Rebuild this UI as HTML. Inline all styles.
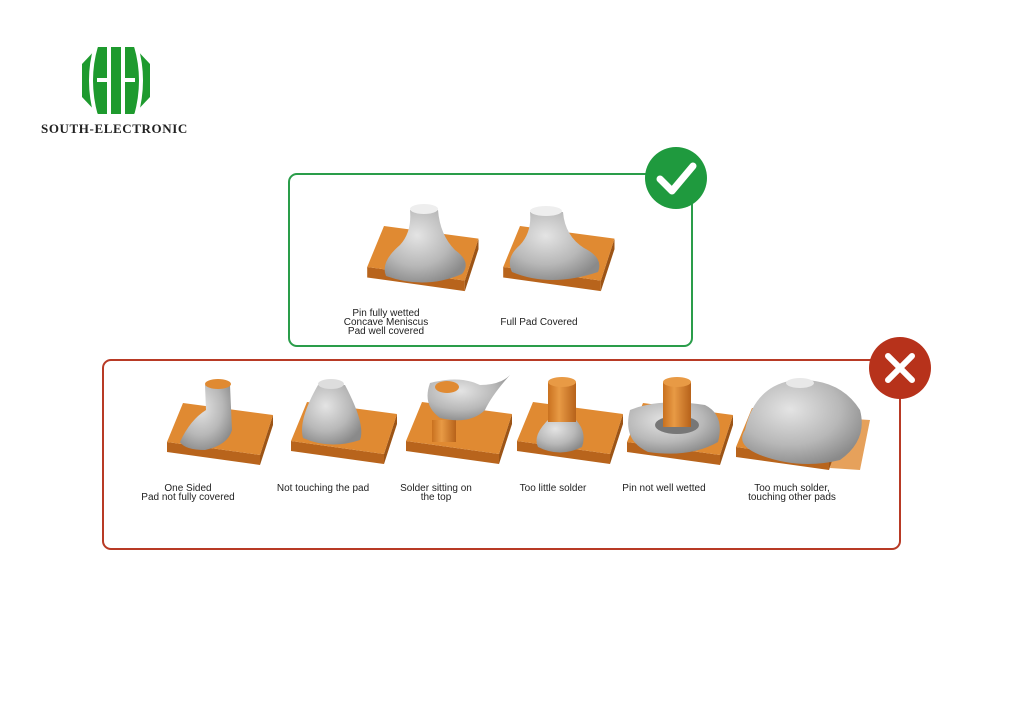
<!DOCTYPE html>
<html><head><meta charset="utf-8"><style>
html,body{margin:0;padding:0;background:#fff;}
svg{display:block}
text{font-family:"Liberation Sans",sans-serif;fill:#222;}
</style></head><body>
<svg width="1024" height="724" viewBox="0 0 1024 724" xmlns="http://www.w3.org/2000/svg">
<defs>
<radialGradient id="g" cx="0.4" cy="0.35" r="0.7"><stop offset="0" stop-color="#e4e4e4"/><stop offset="0.6" stop-color="#b8b8b8"/><stop offset="1" stop-color="#8a8a8a"/></radialGradient>
<linearGradient id="pin" x1="0" x2="1"><stop offset="0" stop-color="#c9711f"/><stop offset="0.4" stop-color="#e89a45"/><stop offset="1" stop-color="#b7621a"/></linearGradient>
<g id="pad">
<polygon points="-16,39 77,52 77,62 -16,49" fill="#b8641c"/>
<polygon points="77,52 90,12 90,22 77,62" fill="#9c5416"/>
<polygon points="0,0 90,12 77,52 -16,39" fill="#e08a32"/>
</g>
</defs>

<!-- logo -->
<path d="M98,47 L134,47 L150,64 L150,97 L134,114 L98,114 L82,97 L82,64 Z" fill="#1e9a2e"/>
<g fill="none" stroke="#fff" stroke-width="4">
<path d="M96,46 Q86,80 96,116"/><path d="M136,46 Q146,80 136,116"/>
</g>
<g fill="#fff">
<rect x="107" y="46" width="4" height="70"/><rect x="121" y="46" width="4" height="70"/>
<rect x="97" y="78" width="10" height="4"/><rect x="125" y="78" width="10" height="4"/>
</g>
<text x="41" y="133" style="font-family:'Liberation Serif',serif;font-weight:bold;font-size:13px;letter-spacing:0.6px" fill="#222">SOUTH-ELECTRONIC</text>

<!-- good box -->
<rect x="289" y="174" width="403" height="172" rx="8" fill="none" stroke="#2a9d4a" stroke-width="2"/>
<circle cx="676" cy="178" r="31" fill="#1f9a3e"/>
<path d="M660,179 L672,191 L693,166" fill="none" stroke="#fff" stroke-width="7" stroke-linecap="round" stroke-linejoin="round"/>

<use href="#pad" transform="translate(384,226) scale(1.05)"/>
<path d="M410,210 Q412,232 400,245 Q380,262 386,276 Q425,290 462,274 Q472,262 455,250 Q440,235 438,210 Z" fill="url(#g)"/>
<ellipse cx="424" cy="209" rx="14" ry="5" fill="#eee"/>
<use href="#pad" transform="translate(520,226) scale(1.05)"/>
<path d="M530,212 Q532,232 520,245 Q505,258 512,272 Q550,288 598,272 Q604,258 584,248 Q565,236 563,212 Z" fill="url(#g)"/>
<ellipse cx="546" cy="211" rx="16" ry="5" fill="#eee"/>
<g font-size="10" text-anchor="middle"><text x="386" y="316">Pin fully wetted</text><text x="386" y="325">Concave Meniscus</text><text x="386" y="334">Pad well covered</text><text x="539" y="325">Full Pad Covered</text></g>

<!-- bad box -->
<rect x="103" y="360" width="797" height="189" rx="8" fill="none" stroke="#b83a25" stroke-width="2"/>
<circle cx="900" cy="368" r="31" fill="#b7321b"/>
<path d="M888,356 L912,380 M912,356 L888,380" stroke="#fff" stroke-width="6" stroke-linecap="round"/>

<use href="#pad" transform="translate(183,403)"/>
<path d="M205,385 L230,385 L232,430 Q228,445 205,450 Q185,450 180,442 Q190,420 206,410 Z" fill="url(#g)"/>
<ellipse cx="218" cy="384" rx="13" ry="5" fill="#e08a32"/>

<use href="#pad" transform="translate(307,402)"/>
<path d="M318,385 Q298,420 303,438 Q330,450 360,440 Q366,425 345,385 Z" fill="url(#g)"/>
<ellipse cx="331" cy="384" rx="13" ry="5" fill="#ddd"/>

<use href="#pad" transform="translate(422,402)"/>
<rect x="432" y="420" width="24" height="22" fill="url(#pin)"/>
<path d="M430,383 Q460,375 480,385 Q500,385 510,375 Q492,395 485,410 Q470,425 440,418 Q422,405 430,383 Z" fill="url(#g)"/>
<ellipse cx="447" cy="387" rx="12" ry="6" fill="#e08a32"/>

<use href="#pad" transform="translate(533,402)"/>
<path d="M550,418 Q532,435 538,447 Q560,458 582,447 Q588,430 572,416 Z" fill="url(#g)"/>
<rect x="548" y="382" width="28" height="40" fill="url(#pin)"/>
<ellipse cx="562" cy="382" rx="14" ry="5" fill="#e89a45"/>

<use href="#pad" transform="translate(643,403)"/>
<path d="M630,410 Q660,398 705,405 Q725,415 718,442 Q690,458 648,452 Q622,440 630,410 Z" fill="url(#g)"/>
<ellipse cx="677" cy="425" rx="22" ry="9" fill="#777"/>
<rect x="663" y="382" width="28" height="45" fill="url(#pin)"/>
<ellipse cx="677" cy="382" rx="14" ry="5" fill="#e89a45"/>

<polygon points="838,418 870,420 860,470 830,468" fill="#e08a32" opacity="0.8"/>
<use href="#pad" transform="translate(752,408)"/>
<path d="M745,430 Q755,385 795,380 Q840,378 860,410 Q868,440 840,460 Q800,470 760,455 Q735,445 745,430 Z" fill="url(#g)"/>
<ellipse cx="800" cy="383" rx="14" ry="5" fill="#e8e8e8"/>

<g font-size="10" text-anchor="middle">
<text x="188" y="491">One Sided</text><text x="188" y="500">Pad not fully covered</text>
<text x="323" y="491">Not touching the pad</text>
<text x="436" y="491">Solder sitting on</text><text x="436" y="500">the top</text>
<text x="553" y="491">Too little solder</text>
<text x="664" y="491">Pin not well wetted</text>
<text x="792" y="491">Too much solder,</text><text x="792" y="500">touching other pads</text>
</g>
</svg>
</body></html>
